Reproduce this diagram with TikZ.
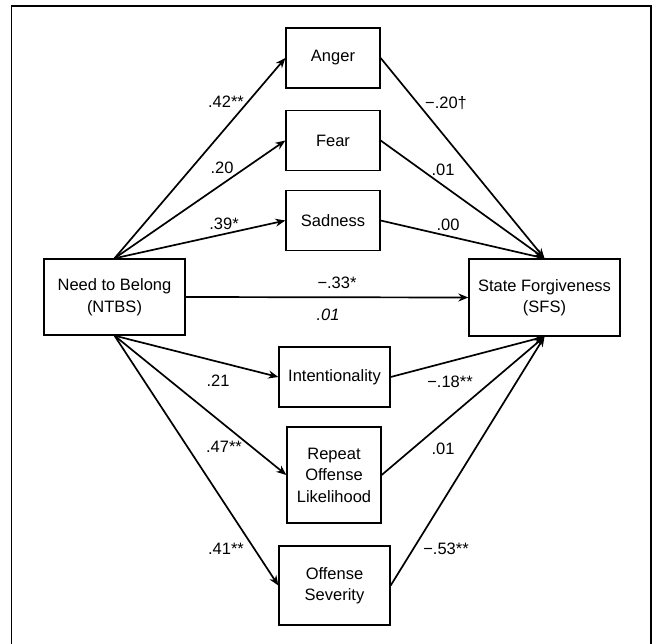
\documentclass[tikz,border=0pt]{standalone}
\usepackage{fontspec}
\setmainfont{Liberation Sans}
\usetikzlibrary{arrows.meta}

\begin{document}
\begin{tikzpicture}[x=1pt,y=-1pt,
  box/.style={draw,line width=1.3pt,inner sep=0pt,align=center,
    font=\fontsize{16.5}{21.5}\selectfont},
  link/.style={line width=1.7pt,-{Stealth[length=10pt,width=8pt]}},
  coef/.style={inner sep=0pt,font=\fontsize{16.5}{20}\selectfont}]
  \useasboundingbox (0,0) rectangle (656,643);
  % outer frame, cut at the bottom
  \draw[line width=1.3pt] (11.5,660) -- (11.5,6) -- (651,6) -- (651,660);

  % predictor and outcome
  \node[box,minimum width=141pt,minimum height=76pt] (ntbs) at (114.5,297) {Need to Belong\\(NTBS)};
  \node[box,minimum width=151pt,minimum height=77pt] (sfs) at (544.5,297.5) {State Forgiveness\\(SFS)};

  % mediators
  \node[box,minimum width=94pt,minimum height=60pt] (anger) at (333,58) {Anger};
  \node[box,minimum width=94pt,minimum height=60pt] (fear) at (333,140.5) {Fear};
  \node[box,minimum width=94pt,minimum height=60pt] (sad) at (333,220.5) {Sadness};
  \node[box,minimum width=111pt,minimum height=60pt] (intent) at (334.5,377) {Intentionality};
  \node[box,minimum width=94pt,minimum height=96pt] (repeat) at (334,475) {Repeat\\Offense\\Likelihood};
  \node[box,minimum width=111pt,minimum height=79pt] (sever) at (334.5,585.5) {Offense\\Severity};

  % paths
  \foreach \m in {anger,fear,sad}{
    \draw[link] (ntbs.north) -- (\m.west);
    \draw[link] (\m.east) -- (sfs.north);
  }
  \foreach \m in {intent,repeat,sever}{
    \draw[link] (ntbs.south) -- (\m.west);
    \draw[link] (\m.east) -- (sfs.south);
  }
  \draw[link] (ntbs.east) -- (sfs.west);

  % coefficients
  \node[coef] (cAngerIn) at (226,102) {.42**};
  \node[coef] (cFearIn) at (222,168) {.20};
  \node[coef] (cSadIn) at (224,224) {.39*};
  \node[coef] (cAngerOut) at (446,103) {−.20†};
  \node[coef] (cFearOut) at (443,170) {.01};
  \node[coef] (cSadOut) at (448,225) {.00};
  \node[coef] (cTotal) at (337,283) {−.33*};
  \node[coef] (cDirect) at (328,315) {\textit{.01}};
  \node[coef] (cIntentIn) at (218,381) {.21};
  \node[coef] (cIntentOut) at (450,382) {−.18**};
  \node[coef] (cRepeatIn) at (224,447) {.47**};
  \node[coef] (cRepeatOut) at (443,449) {.01};
  \node[coef] (cSeverIn) at (226,549) {.41**};
  \node[coef] (cSeverOut) at (446,549) {−.53**};
\end{tikzpicture}
\end{document}
